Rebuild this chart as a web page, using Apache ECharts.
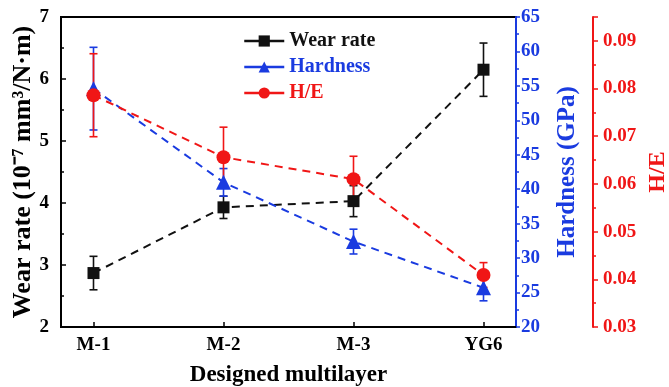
<!DOCTYPE html>
<html>
<head>
<meta charset="utf-8">
<script src="https://cdn.jsdelivr.net/npm/echarts@6/dist/echarts.min.js"></script>
<style>
  html, body { margin: 0; padding: 0; background: #fff; }
  #main { width: 669px; height: 387px; }
</style>
</head>
<body>
<div id="main"></div>
<script>
// categories and measured values
const categories = ['M-1', 'M-2', 'M-3', 'YG6'];
const wearRate = [2.87, 3.93, 4.03, 6.15];
const wearErr = [0.27, 0.18, 0.25, 0.43];
const hardness = [54.6, 41.0, 32.4, 25.7];
const hardErr = [6.0, 2.0, 1.8, 1.9];
const hOverE = [0.0786, 0.0656, 0.0610, 0.0409];
const heErr = [0.0087, 0.0063, 0.0048, 0.0026];

const BLACK = '#111111';
const BLUE = '#1a3be0';
const RED = '#f01616';
const FONT = '"Liberation Serif", "Times New Roman", serif';

function pts(vals) {
    return vals.map((v, i) => [i, v]);
}
function errs(vals, e) {
    return vals.map((v, i) => [i, v - e[i], v + e[i]]);
}

function errorBar(color) {
    return function (params, api) {
        const lo = api.coord([api.value(0), api.value(1)]);
        const hi = api.coord([api.value(0), api.value(2)]);
        const w = 4;
        const style = { stroke: color, lineWidth: 1.6 };
        return {
            type: 'group',
            children: [
                { type: 'line', shape: { x1: lo[0], y1: lo[1], x2: hi[0], y2: hi[1] }, style: style },
                { type: 'line', shape: { x1: lo[0] - w, y1: lo[1], x2: lo[0] + w, y2: lo[1] }, style: style },
                { type: 'line', shape: { x1: hi[0] - w, y1: hi[1], x2: hi[0] + w, y2: hi[1] }, style: style }
            ]
        };
    };
}

const labelStyle = { fontFamily: FONT, fontWeight: 'bold', fontSize: 19 };

const option = {
    animation: false,
    grid: {
        left: 61, right: 153, top: 17, bottom: 60,
        outerBoundsMode: 'none',
        containLabel: false,
        show: true,
        borderColor: '#000',
        borderWidth: 2
    },
    legend: {
        orient: 'vertical',
        left: 238,
        top: 26,
        itemWidth: 40,
        itemHeight: 14,
        itemGap: 6,
        lineStyle: { type: 'solid', width: 2.5 },
        textStyle: { fontFamily: FONT, fontWeight: 'bold', fontSize: 20 },
        data: [
            { name: 'Wear rate', textStyle: { color: BLACK } },
            { name: 'Hardness', textStyle: { color: BLUE } },
            { name: 'H/E', textStyle: { color: RED } }
        ]
    },
    xAxis: {
        type: 'value',
        min: -0.25,
        max: 3.25,
        name: 'Designed multilayer',
        nameLocation: 'middle',
        nameGap: 37,
        nameMoveOverlap: false,
        nameTextStyle: { fontFamily: FONT, fontWeight: 'bold', fontSize: 23, color: '#000' },
        axisLine: { onZero: false, lineStyle: { color: '#000', width: 2 } },
        axisTick: { inside: true, length: 5, customValues: [0, 1, 2, 3], lineStyle: { color: '#000', width: 1.5 } },
        axisLabel: Object.assign({
            color: '#000',
            margin: 9,
            customValues: [0, 1, 2, 3],
            formatter: v => categories[Math.round(v)] || ''
        }, labelStyle),
        splitLine: { show: false }
    },
    yAxis: [
        {
            type: 'value',
            position: 'left',
            min: 2, max: 7, interval: 1,
            name: 'Wear rate (10⁻⁷ mm³/N·m)',
            nameLocation: 'middle',
            nameRotate: 90,
            nameGap: 25,
            nameMoveOverlap: false,
            nameTextStyle: { fontFamily: FONT, fontWeight: 'bold', fontSize: 26, color: '#000' },
            axisLine: { show: true, onZero: false, lineStyle: { color: '#000', width: 2 } },
            axisTick: { inside: true, length: 5, lineStyle: { color: '#000', width: 1.5 } },
            minorTick: { show: true, splitNumber: 2, length: 3, lineStyle: { color: '#000', width: 1.5 } },
            axisLabel: Object.assign({ color: '#000', margin: 12 }, labelStyle),
            splitLine: { show: false }
        },
        {
            type: 'value',
            position: 'right',
            min: 20, max: 65, interval: 5,
            name: 'Hardness (GPa)',
            nameLocation: 'middle',
            nameRotate: 90,
            nameGap: 39,
            nameMoveOverlap: false,
            nameTextStyle: { fontFamily: FONT, fontWeight: 'bold', fontSize: 25, color: BLUE },
            axisLine: { show: true, onZero: false, lineStyle: { color: BLUE, width: 2 } },
            axisTick: { inside: false, length: 4, lineStyle: { color: BLUE, width: 1.5 } },
            minorTick: { show: true, splitNumber: 2, length: 3, lineStyle: { color: BLUE, width: 1.5 } },
            axisLabel: Object.assign({ color: BLUE, margin: 5 }, labelStyle),
            splitLine: { show: false }
        },
        {
            type: 'value',
            position: 'right',
            offset: 77,
            min: 0.03, max: 0.095, interval: 0.01,
            name: 'H/E',
            nameLocation: 'middle',
            nameRotate: 90,
            nameGap: 53,
            nameMoveOverlap: false,
            nameTextStyle: { fontFamily: FONT, fontWeight: 'bold', fontSize: 24, color: RED },
            axisLine: { show: true, onZero: false, lineStyle: { color: RED, width: 2 } },
            axisTick: { inside: false, length: 5, lineStyle: { color: RED, width: 1.5 } },
            minorTick: { show: true, splitNumber: 2, length: 3, lineStyle: { color: RED, width: 1.5 } },
            axisLabel: Object.assign({
                color: RED, margin: 10, showMaxLabel: false,
                formatter: v => v.toFixed(2)
            }, labelStyle),
            splitLine: { show: false }
        }
    ],
    series: [
        {
            type: 'custom', yAxisIndex: 0, z: 2,
            renderItem: errorBar(BLACK),
            data: errs(wearRate, wearErr)
        },
        {
            type: 'custom', yAxisIndex: 1, z: 2,
            renderItem: errorBar(BLUE),
            data: errs(hardness, hardErr)
        },
        {
            type: 'custom', yAxisIndex: 2, z: 2,
            renderItem: errorBar(RED),
            data: errs(hOverE, heErr)
        },
        {
            name: 'Wear rate', type: 'line', yAxisIndex: 0, z: 3,
            symbol: 'rect', symbolSize: 12,
            itemStyle: { color: BLACK },
            lineStyle: { color: BLACK, width: 2, type: [8, 6] },
            data: pts(wearRate)
        },
        {
            name: 'Hardness', type: 'line', yAxisIndex: 1, z: 4,
            symbol: 'triangle', symbolSize: 15,
            itemStyle: { color: BLUE },
            lineStyle: { color: BLUE, width: 2, type: [8, 6] },
            data: pts(hardness)
        },
        {
            name: 'H/E', type: 'line', yAxisIndex: 2, z: 5,
            symbol: 'circle', symbolSize: 14,
            itemStyle: { color: RED },
            lineStyle: { color: RED, width: 2, type: [8, 6] },
            data: pts(hOverE)
        }
    ]
};

const chart = echarts.init(document.getElementById('main'));
chart.setOption(option);
</script>
</body>
</html>
